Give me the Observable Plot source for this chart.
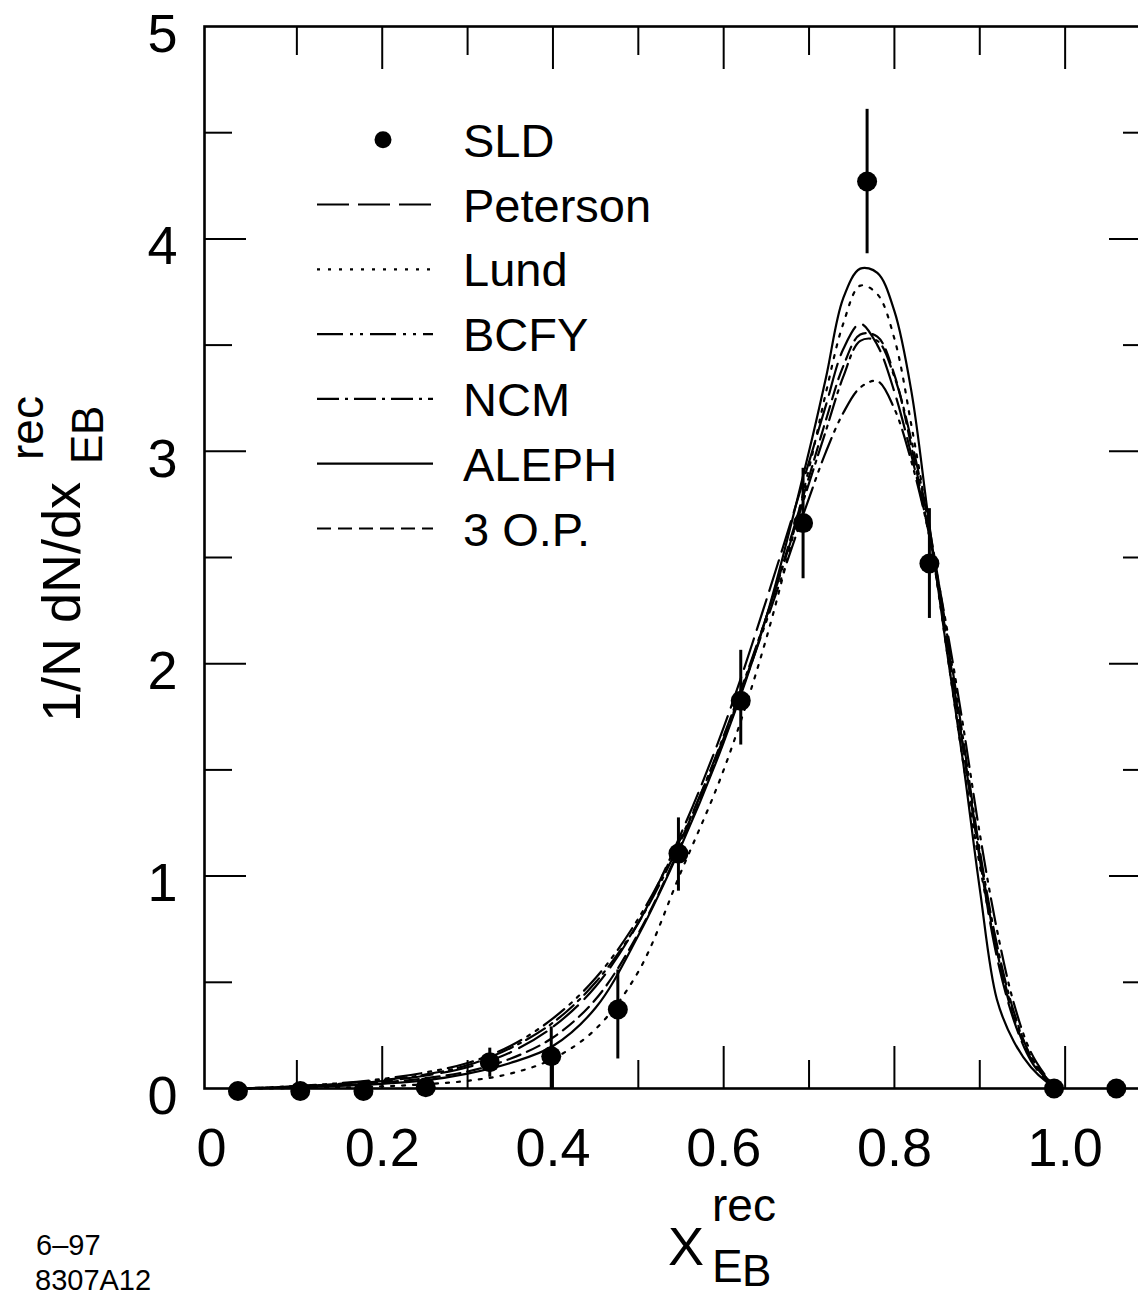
<!DOCTYPE html>
<html><head><meta charset="utf-8">
<script src="https://cdn.jsdelivr.net/npm/d3@7"></script>
<script src="https://cdn.jsdelivr.net/npm/@observablehq/plot@0.6"></script>
<style>
html,body{margin:0;padding:0;background:#fff;overflow:hidden}
#wrap{position:relative;width:1138px;height:1295px;overflow:hidden;font-family:"Liberation Sans",Arial,Helvetica,sans-serif}
#wrap svg{position:absolute;left:0;top:0;max-width:none !important}
</style></head><body><div id="wrap"></div>
<script>
// ---- data ----
const xGrid    = [0.03,0.06,0.10,0.15,0.20,0.25,0.30,0.35,0.40,0.45,0.50,0.55,0.60,0.65,0.70,0.72,0.74,0.76,0.78,0.80,0.82,0.84,0.86,0.88,0.90,0.92,0.94,0.96,0.98,0.99];
const peterson = [0.000,0.003,0.010,0.020,0.035,0.060,0.100,0.170,0.290,0.480,0.780,1.200,1.700,2.300,2.950,3.220,3.480,3.600,3.500,3.280,2.980,2.620,2.150,1.620,1.080,0.620,0.320,0.130,0.030,0.000];
const lund     = [0.000,0.000,0.002,0.005,0.010,0.020,0.036,0.070,0.140,0.280,0.550,1.020,1.500,2.120,2.920,3.280,3.600,3.780,3.740,3.530,3.120,2.650,2.100,1.550,1.050,0.650,0.350,0.150,0.040,0.000];
const bcfy     = [0.000,0.004,0.012,0.025,0.045,0.075,0.120,0.200,0.330,0.520,0.800,1.180,1.650,2.200,2.780,3.000,3.180,3.300,3.330,3.200,2.950,2.620,2.200,1.720,1.200,0.750,0.400,0.170,0.045,0.000];
const ncm      = [0.000,0.003,0.010,0.022,0.040,0.065,0.110,0.190,0.310,0.500,0.780,1.170,1.660,2.220,2.850,3.100,3.350,3.520,3.520,3.350,3.050,2.660,2.180,1.660,1.120,0.680,0.360,0.150,0.040,0.000];
const aleph    = [0.000,0.002,0.006,0.012,0.022,0.038,0.070,0.120,0.200,0.380,0.720,1.140,1.630,2.220,3.000,3.350,3.720,3.860,3.840,3.660,3.280,2.680,2.100,1.550,0.940,0.420,0.220,0.100,0.025,0.000];
const op3      = [0.000,0.002,0.007,0.015,0.028,0.048,0.080,0.140,0.240,0.420,0.730,1.150,1.640,2.220,2.880,3.150,3.400,3.550,3.540,3.360,3.020,2.620,2.140,1.620,1.100,0.650,0.330,0.140,0.035,0.000];

const sldX  = [0.031,0.104,0.178,0.251,0.326,0.398,0.476,0.547,0.620,0.693,0.768,0.841,0.987,1.060];
const sldY  = [-0.012,-0.012,-0.012,0.006,0.124,0.152,0.372,1.106,1.825,2.662,4.270,2.472,0.000,0.000];
const sldLo = [null,null,null,null,0.053,0.000,0.139,0.929,1.617,2.400,3.930,2.213,null,null];
const sldHi = [null,null,null,null,0.190,0.290,0.558,1.274,2.063,2.920,4.610,2.730,null,null];

const xMajor = [0.2,0.4,0.6,0.8,1.0];
const xMinor = [0.1,0.3,0.5,0.7,0.9];
const xLabels = [0,0.2,0.4,0.6,0.8,1.0];
const yMajor = [1,2,3,4];
const yMinor = [0.5,1.5,2.5,3.5,4.5];
const yLabels = [0,1,2,3,4,5];

const models = [
  {name:"Peterson", values:peterson, dash:"32,9"},
  {name:"Lund",     values:lund,     dash:"3,8"},
  {name:"BCFY",     values:bcfy,     dash:"26,7,3,7,3,7"},
  {name:"NCM",      values:ncm,      dash:"22,6,3,6"},
  {name:"ALEPH",    values:aleph,    dash:null},
  {name:"3 O.P.",   values:op3,      dash:"14,7"}
];

// ---- build tables ----
const sld = sldX.map((x,i)=>({x, y:sldY[i], lo:sldLo[i], hi:sldHi[i]}));
const errs = sld.filter(d=>d.lo!=null);

const curveMarks = models.map(m => Plot.line(xGrid.map((x,i)=>({x, y:m.values[i]})), {
  x:"x", y:"y", curve:"catmull-rom", stroke:"black", strokeWidth:2.2,
  strokeDasharray: m.dash || undefined
}));

const fmt = d => d===0 ? "0" : d.toFixed(1);

const plot = Plot.plot({
  width: 1150, height: 1295,
  marginLeft: 204, marginRight: 0, marginTop: 26, marginBottom: 207,
  x: {domain: [-0.0082, 1.1]},
  y: {domain: [0, 5]},
  style: {fontFamily: '"Liberation Sans", Arial, Helvetica, sans-serif', background: "transparent", color: "black", maxWidth: "none"},
  marks: [
    // ticks (inward)
    Plot.axisX({anchor:"bottom", ticks:xMajor, tickSize:42, dy:-42, fill:"none", strokeWidth:2, label:null}),
    Plot.axisX({anchor:"bottom", ticks:xMinor, tickSize:28, dy:-28, fill:"none", strokeWidth:2, label:null}),
    Plot.axisX({anchor:"top", ticks:xMajor, tickSize:42, dy:42, fill:"none", strokeWidth:2, label:null}),
    Plot.axisX({anchor:"top", ticks:xMinor, tickSize:28, dy:28, fill:"none", strokeWidth:2, label:null}),
    Plot.axisY({anchor:"left", ticks:yMajor, tickSize:42, dx:42, fill:"none", strokeWidth:2, label:null}),
    Plot.axisY({anchor:"left", ticks:yMinor, tickSize:28, dx:28, fill:"none", strokeWidth:2, label:null}),
    Plot.axisY({anchor:"right", ticks:yMajor, tickSize:42, dx:-42, fill:"none", strokeWidth:2, label:null}),
    Plot.axisY({anchor:"right", ticks:yMinor, tickSize:28, dx:-28, fill:"none", strokeWidth:2, label:null}),
    // tick labels
    Plot.axisX({anchor:"bottom", ticks:xLabels, tickSize:0, tickPadding:39, tickFormat:fmt, fontSize:54, stroke:"none", label:null}),
    Plot.axisY({anchor:"left", ticks:yLabels, tickSize:0, tickPadding:27, dy:8, tickFormat:d=>String(d), fontSize:54, stroke:"none", label:null}),
    Plot.frame({strokeWidth:2.6}),
    ...curveMarks,
    Plot.ruleX(errs, {x:"x", y1:"lo", y2:"hi", strokeWidth:3, stroke:"black"}),
    Plot.dot(sld, {x:"x", y:"y", r:10, fill:"black", stroke:"none"})
  ]
});
plot.style.maxWidth = "none";
plot.style.width = "1150px";
plot.style.height = "1295px";
document.getElementById("wrap").appendChild(plot);

// ---- overlay: legend, axis titles, footnote ----
const ov = d3.select("#wrap").append("svg")
  .attr("width",1138).attr("height",1295)
  .style("font-family",'"Liberation Sans", Arial, Helvetica, sans-serif');

const legendRows = [{name:"SLD", dot:true}, ...models.map(m=>({name:m.name, dash:m.dash}))];
legendRows.forEach((r,i)=>{
  const cy = 139.7 + 64.8*i;
  if (r.dot) {
    ov.append("circle").attr("cx",383).attr("cy",cy).attr("r",8.5).attr("fill","black");
  } else {
    ov.append("line").attr("x1",317).attr("x2",433).attr("y1",cy).attr("y2",cy)
      .attr("stroke","black").attr("stroke-width",2.2)
      .attr("stroke-dasharray", r.dash || null);
  }
  ov.append("text").attr("x",463).attr("y",cy+17).attr("font-size",47).text(r.name);
});

// x-axis title
const xt = ov.append("g");
xt.append("text").attr("x",668).attr("y",1265).attr("font-size",54).text("X");
xt.append("text").attr("x",712).attr("y",1221).attr("font-size",46).text("rec");
xt.append("text").attr("x",712).attr("y",1282).attr("font-size",46).text("E");
xt.append("text").attr("x",742).attr("y",1286).attr("font-size",44).text("B");

// y-axis title (rotated)
const yt = ov.append("g").attr("transform","translate(80,722) rotate(-90)");
yt.append("text").attr("x",0).attr("y",0).attr("font-size",54).text("1/N dN/dx");
yt.append("text").attr("x",262).attr("y",-37).attr("font-size",46).text("rec");
yt.append("text").attr("x",258).attr("y",22).attr("font-size",44).text("E");
yt.append("text").attr("x",287).attr("y",23).attr("font-size",44).text("B");

// footnote
ov.append("text").attr("x",36).attr("y",1255).attr("font-size",29).text("6–97");
ov.append("text").attr("x",35).attr("y",1290).attr("font-size",29).text("8307A12");
</script>
</body></html>
